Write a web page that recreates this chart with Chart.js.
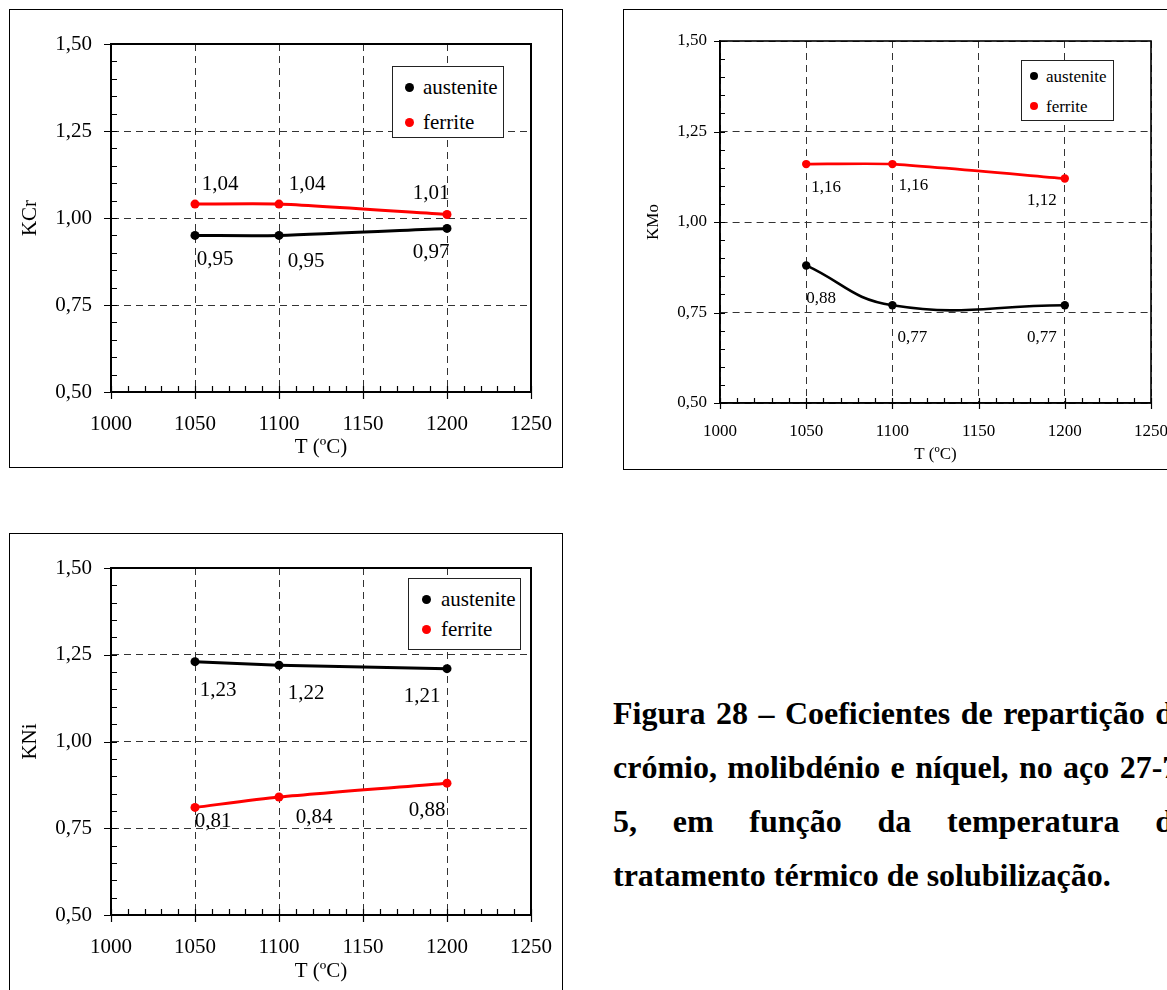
<!DOCTYPE html>
<html>
<head>
<meta charset="utf-8">
<script src="https://cdn.jsdelivr.net/npm/chart.js@4.4.1/dist/chart.umd.min.js"></script>
<style>
  html, body { margin: 0; padding: 0; background: #fff; }
  body { width: 1167px; height: 990px; overflow: hidden; position: relative; }
  .frame { position: absolute; border: 1px solid #000; background: #fff; }
  .frame canvas { display: block; }
  .legend { position: absolute; border: 1px solid #222; background: #fff; font-family: 'Liberation Serif', 'Times New Roman', serif; color: #000; }
  .legend .dot { position: absolute; border-radius: 50%; }
  .legend .txt { position: absolute; white-space: nowrap; transform: translateY(-50%); line-height: 1; }
  #caption { position: absolute; left: 613px; top: 686px; width: 576px; font-family: 'Liberation Serif', 'Times New Roman', serif; font-weight: bold; font-size: 32px; line-height: 54px; color: #000; }
  #caption .j { text-align: justify; text-align-last: justify; }
</style>
</head>
<body>
<div class="frame" style="left:9px;top:9px;width:552px;height:457px"><canvas id="c1" width="552" height="457" style="width:552px;height:457px"></canvas></div>
<div class="frame" style="left:623px;top:9px;width:552px;height:459px"><canvas id="c2" width="552" height="459" style="width:552px;height:459px"></canvas></div>
<div class="frame" style="left:9px;top:533px;width:552px;height:458px"><canvas id="c3" width="552" height="458" style="width:552px;height:458px"></canvas></div>
<div id="lg1" class="legend"></div>
<div id="lg2" class="legend"></div>
<div id="lg3" class="legend"></div>
<div id="caption">
  <div class="j">Figura 28 – Coeficientes de repartição do</div>
  <div class="j">crómio, molibdénio e níquel, no aço 27-7-</div>
  <div class="j">5, em função da temperatura do</div>
  <div>tratamento térmico de solubilização.</div>
</div>
<script>
// ---------- data ----------
const temperatures = [1050, 1100, 1200];
const seriesNames = ['austenite', 'ferrite'];
const kCrAustenite = [0.95, 0.95, 0.97];
const kCrFerrite = [1.04, 1.04, 1.01];
const kMoAustenite = [0.88, 0.77, 0.77];
const kMoFerrite = [1.16, 1.16, 1.12];
const kNiAustenite = [1.23, 1.22, 1.21];
const kNiFerrite = [0.81, 0.84, 0.88];
const xTickValues = [1000, 1050, 1100, 1150, 1200, 1250];
const yTickValues = [0.50, 0.75, 1.00, 1.25, 1.50];
const xAxisTitle = 'T (ºC)';
const yAxisTitles = ['KCr', 'KMo', 'KNi'];

// ---------- styling ----------
const FONT = "'Liberation Serif', 'Times New Roman', serif";
const seriesColors = ['#000000', '#ff0000'];

const fmt = v => v.toFixed(2).replace('.', ',');

const frameTicks = {
  id: 'frameTicks',
  beforeDatasetsDraw(chart, args, o) {
    const {ctx, chartArea: a, scales: {x, y}} = chart;
    ctx.save();
    ctx.strokeStyle = '#000';
    ctx.lineWidth = o.tickWidth;
    ctx.beginPath();
    const xt = xTickValues, yt = yTickValues;
    for (let i = 0; i < yt.length; i++) {
      const py = Math.round(y.getPixelForValue(yt[i])) + 0.5;
      ctx.moveTo(a.left - o.out, py); ctx.lineTo(a.left + o.inn, py);
      if (i < yt.length - 1) {
        for (let k = 1; k < 5; k++) {
          const v = yt[i] + (yt[i + 1] - yt[i]) * k / 5;
          const pm = Math.round(y.getPixelForValue(v)) + 0.5;
          ctx.moveTo(a.left, pm); ctx.lineTo(a.left + o.inn, pm);
        }
      }
    }
    for (let i = 0; i < xt.length; i++) {
      const px = Math.round(x.getPixelForValue(xt[i])) + 0.5;
      ctx.moveTo(px, a.bottom + o.out); ctx.lineTo(px, a.bottom - o.inn);
      if (i < xt.length - 1) {
        for (let k = 1; k < 5; k++) {
          const v = xt[i] + (xt[i + 1] - xt[i]) * k / 5;
          const pm = Math.round(x.getPixelForValue(v)) + 0.5;
          ctx.moveTo(pm, a.bottom); ctx.lineTo(pm, a.bottom - o.inn);
        }
      }
    }
    ctx.stroke();
    ctx.lineWidth = o.frameWidth;
    ctx.strokeRect(a.left, a.top, a.right - a.left, a.bottom - a.top);
    ctx.restore();
  }
};

const valueLabels = {
  id: 'valueLabels',
  afterDatasetsDraw(chart, args, o) {
    const {ctx} = chart;
    ctx.save();
    ctx.font = o.size + 'px ' + FONT;
    ctx.fillStyle = '#000';
    ctx.textAlign = 'center';
    ctx.textBaseline = 'middle';
    chart.data.datasets.forEach((ds, di) => {
      const meta = chart.getDatasetMeta(di);
      meta.data.forEach((pt, i) => {
        const off = o.offsets[di][i];
        ctx.fillText(fmt(ds.data[i].y), pt.x + off[0], pt.y + off[1]);
      });
    });
    ctx.restore();
  }
};

function makeChart(id, idx, series, L) {
  const datasets = series.map((vals, si) => ({
    label: seriesNames[si],
    data: temperatures.map((t, i) => ({x: t, y: vals[i]})),
    borderColor: seriesColors[si],
    backgroundColor: seriesColors[si],
    pointBackgroundColor: seriesColors[si],
    pointBorderWidth: 0,
    pointRadius: L.pointR,
    borderWidth: L.lineW,
    tension: L.tension[si],
    fill: false
  }));
  return new Chart(document.getElementById(id), {
    type: 'line',
    data: {datasets},
    plugins: [frameTicks, valueLabels],
    options: {
      responsive: false,
      animation: false,
      events: [],
      layout: {padding: {top: L.padTop, right: L.padRight, left: 0, bottom: 0}},
      plugins: {
        legend: {display: false},
        tooltip: {enabled: false},
        frameTicks: {inn: L.tickIn, out: L.tickOut, tickWidth: 1.2, frameWidth: L.frameW},
        valueLabels: {size: L.font, offsets: L.offsets}
      },
      scales: {
        x: {
          type: 'linear',
          min: xTickValues[0], max: xTickValues[xTickValues.length - 1],
          afterBuildTicks: s => { s.ticks = xTickValues.map(v => ({value: v})); },
          afterFit: s => { s.height = L.xHeight; s.paddingLeft = 0; s.paddingRight = 0; },
          ticks: {autoSkip: false, maxRotation: 0, padding: L.xTickPad, color: '#000',
                  font: {family: FONT, size: L.font}, callback: v => String(v)},
          grid: {color: '#333', lineWidth: 1, drawTicks: false},
          border: {display: true, color: '#000', width: L.frameW, dash: [7, 5]},
          title: {display: true, text: xAxisTitle, color: '#000',
                  font: {family: FONT, size: L.font}, padding: {top: 0, bottom: L.xTitlePb}}
        },
        y: {
          type: 'linear',
          min: yTickValues[0], max: yTickValues[yTickValues.length - 1],
          afterBuildTicks: s => { s.ticks = yTickValues.map(v => ({value: v})); },
          afterFit: s => { s.width = L.yWidth; s.paddingTop = 0; s.paddingBottom = 0; },
          ticks: {autoSkip: false, padding: L.yTickPad, color: '#000',
                  font: {family: FONT, size: L.font}, callback: v => fmt(v)},
          grid: {color: '#333', lineWidth: 1, drawTicks: false},
          border: {display: true, color: '#000', width: L.frameW, dash: [7, 5]},
          title: {display: true, text: yAxisTitles[idx], color: '#000',
                  font: {family: FONT, size: L.font}, padding: {top: L.yTitlePt, bottom: 0}}
        }
      }
    }
  });
}

function makeLegend(id, chart, B) {
  const el = document.getElementById(id);
  Object.assign(el.style, {left: B.left + 'px', top: B.top + 'px', width: B.w + 'px', height: B.h + 'px'});
  chart.data.datasets.forEach((ds, i) => {
    const d = document.createElement('span');
    d.className = 'dot';
    Object.assign(d.style, {left: (B.dotX - B.dot / 2) + 'px', top: (B.rows[i] - B.dot / 2) + 'px',
                            width: B.dot + 'px', height: B.dot + 'px', background: ds.backgroundColor});
    const t = document.createElement('span');
    t.className = 'txt';
    t.textContent = ds.label;
    Object.assign(t.style, {left: B.textX + 'px', top: B.rows[i] + 'px', fontSize: B.font + 'px'});
    el.appendChild(d); el.appendChild(t);
  });
}

const c1 = makeChart('c1', 0, [kCrAustenite, kCrFerrite], {
  font: 21, padTop: 34, padRight: 31, yWidth: 101, xHeight: 75,
  xTickPad: 20, yTickPad: 19, xTitlePb: 6.7, yTitlePt: 7.4,
  tickIn: 6, tickOut: 7, frameW: 2, pointR: 4.5, lineW: 3, tension: [0.25, 0.2],
  offsets: [[[20, 24], [27, 26], [-16, 24]], [[25, -20], [28, -20], [-16, -21]]]
});
const c2 = makeChart('c2', 1, [kMoAustenite, kMoFerrite], {
  font: 17, padTop: 31, padRight: 25, yWidth: 96, xHeight: 66,
  xTickPad: 18, yTickPad: 13, xTitlePb: 3.8, yTitlePt: 19,
  tickIn: 5, tickOut: 6, frameW: 1.6, pointR: 4.2, lineW: 2.6, tension: [0.45, 0.2],
  offsets: [[[15, 33], [20, 32], [-23, 32]], [[20, 23], [21, 21], [-23, 22]]]
});
const c3 = makeChart('c3', 2, [kNiAustenite, kNiFerrite], {
  font: 21, padTop: 34, padRight: 31, yWidth: 101, xHeight: 77,
  xTickPad: 20, yTickPad: 19, xTitlePb: 8.4, yTitlePt: 7.4,
  tickIn: 6, tickOut: 7, frameW: 2, pointR: 4.5, lineW: 3, tension: [0.2, 0.25],
  offsets: [[[23, 29], [27, 28], [-25, 28]], [[18, 14], [35, 20], [-20, 27]]]
});

makeLegend('lg1', c1, {left: 392, top: 66, w: 110, h: 70, dotX: 16, rows: [20, 55], textX: 30, dot: 9, font: 21});
makeLegend('lg2', c2, {left: 1021, top: 60, w: 91, h: 59, dotX: 12, rows: [15, 45], textX: 24, dot: 8, font: 17});
makeLegend('lg3', c3, {left: 408, top: 578, w: 111, h: 70, dotX: 17, rows: [20, 50], textX: 32, dot: 9, font: 21});
</script>
</body>
</html>
